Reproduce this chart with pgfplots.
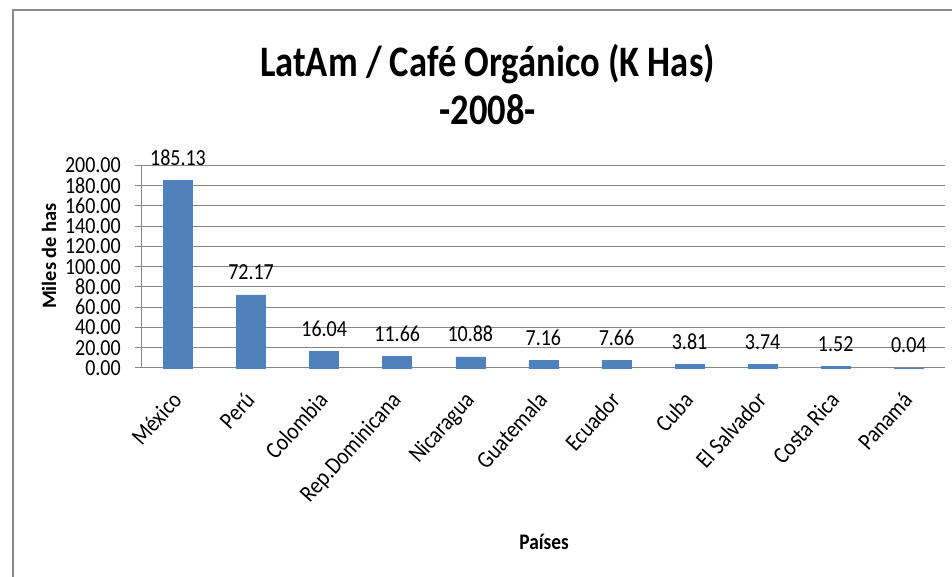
\documentclass[border=0pt]{standalone}
\usepackage{fontspec}
\setmainfont{Carlito}
\usepackage{pgfplots}
\pgfplotsset{compat=1.18}
\definecolor{barblue}{HTML}{4F81BD}
\definecolor{gridgray}{HTML}{868686}
\definecolor{framegray}{HTML}{8C8C8C}
\newcommand\sx[1]{\scalebox{1}[1.15]{#1}}
\begin{document}
\begin{tikzpicture}
\useasboundingbox (0pt,0pt) rectangle (714pt,432.75pt);
\draw[framegray, line width=1.5pt] (9.4pt,0pt) -- (9.4pt,425.25pt) -- (714pt,425.25pt);
\begin{axis}[
  at={(106.1pt,156.75pt)}, anchor=south west,
  scale only axis, width=602.9pt, height=151.9pt,
  xmin=-0.5, xmax=10.5, ymin=0, ymax=200,
  ytick={0,20,...,200},
  xtick={0,...,10},
  xticklabels={\sx{México},\sx{Perú},\sx{Colombia},\sx{Rep.Dominicana},\sx{Nicaragua},\sx{Guatemala},\sx{Ecuador},\sx{Cuba},\sx{El Salvador},\sx{Costa Rica},\sx{Panamá}},
  yticklabel={\sx{\pgfmathprintnumber{\tick}}},
  axis lines*=left,
  axis line style={gridgray, line width=0.75pt},
  ymajorgrids, grid style={gridgray, line width=0.75pt},
  tick align=outside, major tick length=4.5pt,
  ytick style={gridgray, line width=0.75pt},
  xtick style={draw=none},
  /pgf/number format/.cd, fixed, fixed zerofill, precision=2, assume math mode=true, /pgfplots/.cd,
  ticklabel style={font=\fontsize{15}{15}\selectfont},
  yticklabel style={anchor=east, inner sep=0pt, xshift=-10.85pt},
  xticklabel style={font=\fontsize{15.6}{15.6}\selectfont, xshift=-5.5pt, yshift=-12pt, rotate=48, anchor=north east, inner sep=0pt},
  ybar, bar width=21.75pt,
  nodes near coords={\sx{\pgfmathprintnumber{\pgfplotspointmeta}}},
  every node near coord/.append style={font=\fontsize{15}{15}\selectfont, anchor=south, inner sep=0pt, yshift=11pt, text=black},
  clip=false,
]
\addplot[fill=barblue, draw=barblue] coordinates {
(0,185.13) (1,72.17) (2,16.04) (3,11.66) (4,10.88) (5,7.16) (6,7.66) (7,3.81) (8,3.74) (9,1.52) (10,0.04)};
\node[font=\fontsize{27.4}{27.4}\selectfont\bfseries, anchor=center] at (axis description cs:0.4305,1.501) {\scalebox{1}[1.19]{LatAm / Café Orgánico (K Has)}};
\node[font=\fontsize{27.4}{27.4}\selectfont\bfseries, anchor=center] at (axis description cs:0.4305,1.274) {\scalebox{1}[1.19]{-2008-}};
\node[font=\fontsize{14.5}{14.5}\selectfont\bfseries, anchor=center] at (axis description cs:0.5008,-0.859) {\sx{Países}};
\node[font=\fontsize{15.3}{15.3}\selectfont\bfseries, anchor=center, rotate=90] at (axis description cs:-0.115,0.553) {Miles de has};
\end{axis}
\end{tikzpicture}
\end{document}
